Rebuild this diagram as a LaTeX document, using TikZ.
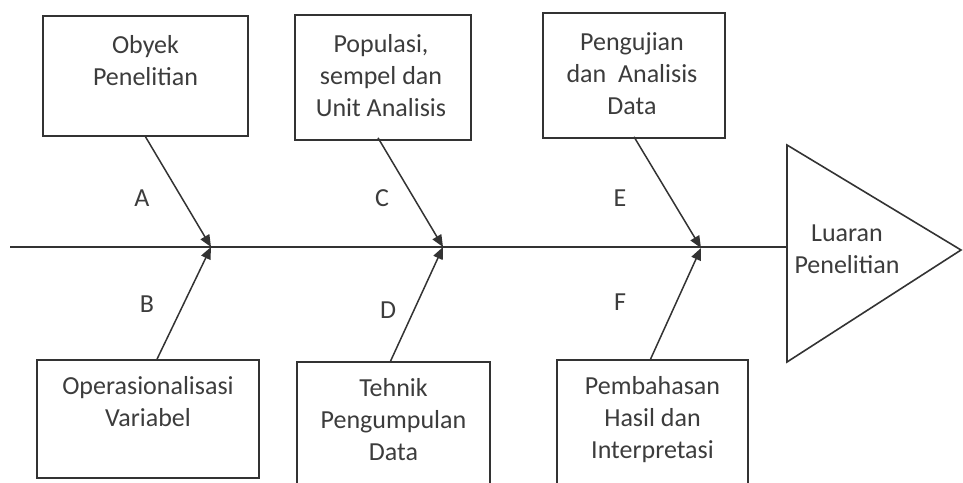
\documentclass[tikz,border=0pt]{standalone}
\usepackage{fontspec}
\setmainfont{Carlito}
\usetikzlibrary{arrows.meta}
\definecolor{ln}{HTML}{333333}
\definecolor{tx}{HTML}{3C3C3C}
\begin{document}
\begin{tikzpicture}[x=1pt,y=-1pt,
  box/.style={draw=ln,line width=1.6pt,inner sep=0pt},
  txt/.style={text=tx,font=\fontsize{26}{32}\selectfont,align=center,inner sep=0pt},
  lbl/.style={text=tx,font=\fontsize{26}{32}\selectfont,inner sep=0pt},
  spine/.style={draw=ln,line width=2.2pt},
  bone/.style={draw=ln,line width=1.5pt,-{Triangle[length=12pt,width=10pt]}}]
\clip (0,0) rectangle (963,482);
\useasboundingbox (0,0) rectangle (963,482);
% boxes
\node[box,minimum width=205pt,minimum height=120pt] (b1) at (145.5,76) {};
\node[box,minimum width=176pt,minimum height=125pt] (b2) at (383,77.5) {};
\node[box,minimum width=182pt,minimum height=125pt] (b3) at (634,75.5) {};
\node[box,minimum width=222pt,minimum height=118pt] (b4) at (148,419) {};
\node[box,minimum width=193pt,minimum height=128pt] (b5) at (393.5,426) {};
\node[box,minimum width=191pt,minimum height=130pt] (b6) at (652.5,425) {};
% texts
\node[txt,anchor=north] (t1) at ([yshift=-20pt]b1.north) {Obyek\\Penelitian};
\node[txt,anchor=north] (t2) at ([yshift=-20pt,xshift=-2pt]b2.north) {Populasi,\\sempel dan\\Unit Analisis};
\node[txt,anchor=north] (t3) at ([yshift=-20pt,xshift=-2pt]b3.north) {Pengujian\\dan\ \ Analisis\\Data};
\node[txt,anchor=north] (t4) at ([yshift=-17pt]b4.north) {Operasionalisasi\\Variabel};
\node[txt,anchor=north] (t5) at ([yshift=-17pt]b5.north) {Tehnik\\Pengumpulan\\Data};
\node[txt,anchor=north] (t6) at ([yshift=-17pt]b6.north) {Pembahasan\\Hasil dan\\Interpretasi};
% spine and head
\coordinate (s0) at (10,247);
\coordinate (ttop) at (787,145);
\coordinate (tbot) at (787,362);
\coordinate (tapex) at (961,250);
\coordinate (tleft) at (787,247);
\draw[spine] (s0) -- (tleft);
\draw[draw=ln,line width=1.6pt,line join=miter] (ttop) -- (tapex) -- (tbot) -- cycle;
\node[txt] (head) at (847,249) {Luaran\\Penelitian};
% junctions
\coordinate (j1) at (211,247);
\coordinate (j2) at (443,247);
\coordinate (j3) at (701,248);
% bones
\draw[bone] (b1.south) -- (j1);
\draw[bone] ([xshift=-5pt,yshift=3pt]b2.south) -- (j2);
\draw[bone] ([yshift=2pt]b3.south) -- (j3);
\draw[bone] ([xshift=9pt]b4.north) -- (j1);
\draw[bone] ([xshift=-3pt]b5.north) -- (j2);
\draw[bone] ([xshift=-2pt]b6.north) -- (j3);
% labels
\node[lbl] (la) at (142,198) {A};
\node[lbl] (lc) at (382,198) {C};
\node[lbl] (le) at (620,198) {E};
\node[lbl] (lb) at (147,304) {B};
\node[lbl] (ld) at (388,310) {D};
\node[lbl] (lf) at (620,302) {F};
\end{tikzpicture}
\end{document}
